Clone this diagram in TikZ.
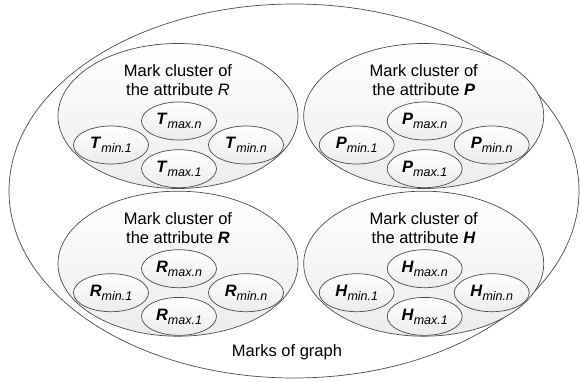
\documentclass[tikz,border=0pt]{standalone}
\usepackage{fontspec}
\setmainfont{Liberation Sans}
\usetikzlibrary{shapes.geometric, positioning}
\definecolor{mline}{HTML}{4A4A4A}
\definecolor{mfill}{HTML}{ECECEC}
\tikzstyle{graphset} = [ellipse, draw=mline, line width=0.7pt, minimum width=570pt, minimum height=374pt, inner sep=0pt]
\tikzstyle{cluster} = [ellipse, draw=mline, line width=0.7pt, minimum width=240pt, minimum height=145pt, inner sep=0pt, top color=white, bottom color=mfill]
\tikzstyle{markoval} = [ellipse, draw=mline, line width=0.7pt, minimum width=75pt, minimum height=38pt, inner sep=0pt, top color=white, bottom color=mfill, font=\fontsize{16.5}{19}\selectfont]
\tikzstyle{heading} = [align=center, inner sep=0pt, font=\fontsize{16.5}{19}\selectfont]
\newcommand{\mklabel}[2]{\textbf{\textit{#1}}\raisebox{-4pt}{\fontsize{12.5}{12.5}\selectfont\textit{#2}}}

\begin{document}
\begin{tikzpicture}[x=1pt, y=1pt]
\useasboundingbox (0,0) rectangle (580,381);
\node (graph) [graphset] at (294,190) {};
\node (graphname) [heading] at (287,29) {Marks of graph};
% clusters
\node (clT) [cluster] at (178,265) {};
\node (clP) [cluster, right = 5pt of clT] {};
\node (clR) [cluster, below = 2pt of clT] {};
\node (clH) [cluster, below = 2pt of clP] {};
\node (hdT) [heading] at ([yshift=36pt]clT.center) {Mark cluster of\\the attribute \textit{R}};
\node (hdP) [heading] at ([yshift=36pt]clP.center) {Mark cluster of\\the attribute \textbf{\textit{P}}};
\node (hdR) [heading] at ([yshift=36pt]clR.center) {Mark cluster of\\the attribute \textbf{\textit{R}}};
\node (hdH) [heading] at ([yshift=36pt]clH.center) {Mark cluster of\\the attribute \textbf{\textit{H}}};
% marks of T
\node (tmaxn) [markoval] at ([shift={(1,-5)}]clT.center) {\mklabel{T}{max.n}};
\node (tmax1) [markoval, below = 9pt of tmaxn] {\mklabel{T}{max.1}};
\node (tmin1) [markoval] at ([shift={(-67,-29)}]clT.center) {\mklabel{T}{min.1}};
\node (tminn) [markoval] at ([shift={(68,-29)}]clT.center) {\mklabel{T}{min.n}};
% marks of P
\node (pmaxn) [markoval] at ([shift={(1,-5)}]clP.center) {\mklabel{P}{max.n}};
\node (pmax1) [markoval, below = 9pt of pmaxn] {\mklabel{P}{max.1}};
\node (pmin1) [markoval] at ([shift={(-67,-29)}]clP.center) {\mklabel{P}{min.1}};
\node (pminn) [markoval] at ([shift={(68,-29)}]clP.center) {\mklabel{P}{min.n}};
% marks of R
\node (rmaxn) [markoval] at ([shift={(1,-5)}]clR.center) {\mklabel{R}{max.n}};
\node (rmax1) [markoval, below = 9pt of rmaxn] {\mklabel{R}{max.1}};
\node (rmin1) [markoval] at ([shift={(-67,-29)}]clR.center) {\mklabel{R}{min.1}};
\node (rminn) [markoval] at ([shift={(68,-29)}]clR.center) {\mklabel{R}{min.n}};
% marks of H
\node (hmaxn) [markoval] at ([shift={(1,-5)}]clH.center) {\mklabel{H}{max.n}};
\node (hmax1) [markoval, below = 9pt of hmaxn] {\mklabel{H}{max.1}};
\node (hmin1) [markoval] at ([shift={(-67,-29)}]clH.center) {\mklabel{H}{min.1}};
\node (hminn) [markoval] at ([shift={(68,-29)}]clH.center) {\mklabel{H}{min.n}};
\end{tikzpicture}
\end{document}
